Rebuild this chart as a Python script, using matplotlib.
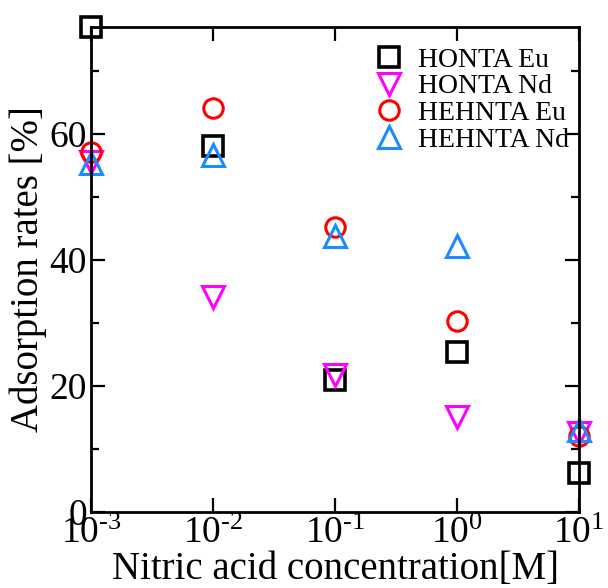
import numpy as np
import matplotlib
matplotlib.use("Agg")
import matplotlib.pyplot as plt
from matplotlib.ticker import FixedLocator, NullLocator, MultipleLocator, FuncFormatter

plt.rcParams['font.family'] = ['Liberation Serif', 'DejaVu Serif']
plt.rcParams['mathtext.fontset'] = 'custom'
plt.rcParams['mathtext.rm'] = 'Liberation Serif'

# nitric acid concentration [M]
conc = [1e-3, 1e-2, 1e-1, 1e0, 1e1]

honta_eu = [77.0, 58.1, 21.0, 25.4, 6.2]
honta_nd = [55.5, 34.2, 21.7, 15.1, 12.5]
hehnta_eu = [57.1, 64.1, 45.2, 30.3, 12.0]
hehnta_nd = [55.4, 56.7, 43.8, 42.2, 13.0]

x_ticks = [1e-3, 1e-2, 1e-1, 1e0, 1e1]
y_ticks = [0, 20, 40, 60]


def dec_label(v, p):
    e = int(round(np.log10(v)))
    if e < 0:
        return r'$\mathregular{10^{\text{-}%d}}$' % (-e)
    return r'$\mathregular{10^{%d}}$' % e


fig = plt.figure(figsize=(6.08, 5.88), dpi=100)
ax = fig.add_axes([91 / 608, 76 / 588, 488 / 608, 485 / 588])

mew = 2.2
ax.plot(conc, honta_eu, ls='none', marker='s', ms=14.5, mfc='none', mec='black',
        mew=2.6, label='HONTA Eu', clip_on=False)
ax.plot(conc, honta_nd, ls='none', marker='v', ms=16, mfc='none', mec='#ff00ff',
        mew=mew, label='HONTA Nd', clip_on=False)
ax.plot(conc, hehnta_eu, ls='none', marker='o', ms=14, mfc='none', mec='#ff0000',
        mew=mew, label='HEHNTA Eu', clip_on=False)
ax.plot(conc, hehnta_nd, ls='none', marker='^', ms=16, mfc='none', mec='#1a8cff',
        mew=mew, label='HEHNTA Nd', clip_on=False)

ax.set_xscale('log')
ax.set_xlim(1e-3, 1e1)
ax.set_ylim(0, 77)

ax.xaxis.set_major_locator(FixedLocator(x_ticks))
ax.xaxis.set_minor_locator(NullLocator())
ax.xaxis.set_major_formatter(FuncFormatter(dec_label))
ax.yaxis.set_major_locator(FixedLocator(y_ticks))
ax.yaxis.set_minor_locator(MultipleLocator(10))

for s in ax.spines.values():
    s.set_linewidth(2.0)

ax.tick_params(which='both', direction='in', top=True, right=True,
               width=1.6, labelsize=27)
ax.tick_params(which='major', length=10)
ax.tick_params(which='minor', length=6)
ax.tick_params(axis='y', pad=3)
ax.tick_params(axis='x', pad=3)

ax.set_xlabel('Nitric acid concentration[M]', fontsize=28, labelpad=0)
ax.set_ylabel('Adsorption rates [%]', fontsize=28, labelpad=2)

leg = ax.legend(loc='upper left', bbox_to_anchor=(0.542, 0.998), frameon=False,
                fontsize=20, handlelength=1.0, handletextpad=0.55,
                labelspacing=0.04, borderaxespad=0.3, numpoints=1)

fig.savefig('out.png', dpi=100)
